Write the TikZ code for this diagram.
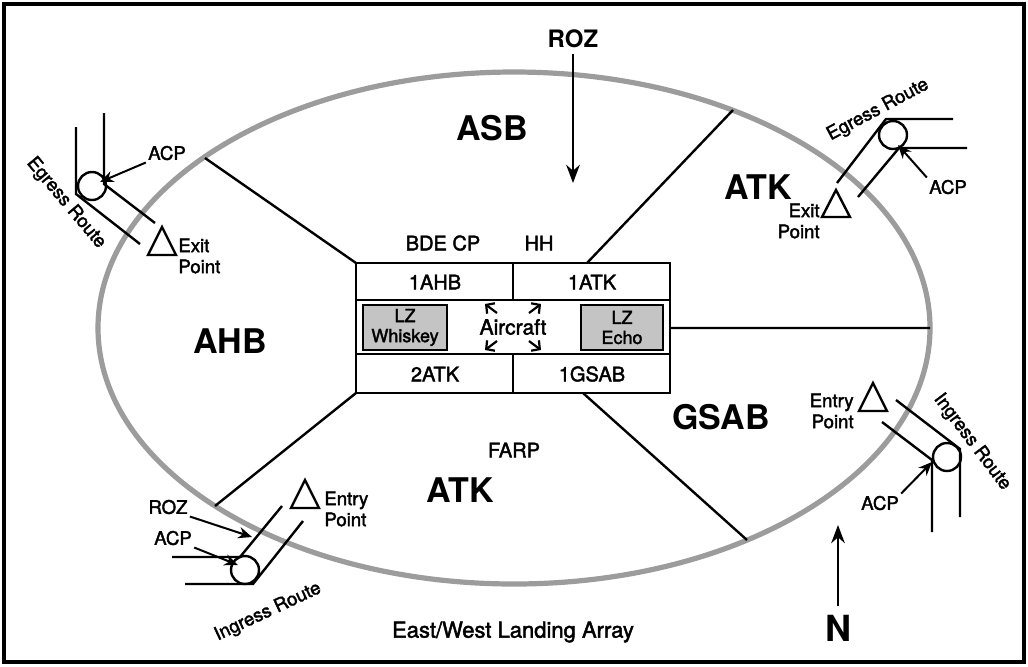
\documentclass[tikz,border=0pt]{standalone}
\usepackage{fontspec}
\setmainfont{TeX Gyre Heros}
\newfontfamily\medfont{TeX Gyre Heros}[FakeBold=2]
\usepackage{tikz}
\usetikzlibrary{calc,arrows.meta,positioning}
\definecolor{ringgray}{HTML}{9C9C9C}
\definecolor{lzgray}{HTML}{C4C4C4}
\tikzset{
  ln/.style={line width=1.2pt},
  ar/.style={-{Stealth[length=3.2mm,width=2.4mm]},line width=1pt},
  sar/.style={-{Stealth[length=2.4mm,width=2mm]},line width=1pt},
  tiny/.style={-{Straight Barb[length=3pt,width=6.5pt]},line width=1.1pt},
  ring/.style={draw=ringgray,line width=2.6pt},
  zone/.style={font=\fontsize{17}{17}\selectfont\bfseries},
  lbl/.style={font=\medfont\fontsize{9.3}{10.5}\selectfont,inner sep=1pt},
  cell/.style={font=\medfont\fontsize{10}{11}\selectfont},
  lz/.style={draw,line width=1.4pt,fill=lzgray,align=center,inner sep=0pt,font=\medfont\fontsize{9}{10}\selectfont}
}
\begin{document}
\begin{tikzpicture}[x=0.5pt,y=-0.5pt]
\useasboundingbox (0,0) rectangle (1028,666);
\draw[line width=1.6pt] (4,4) rectangle (1024,662);
\coordinate (ctr) at (514,328);
\draw[ring] (ctr) ellipse [x radius=416,y radius=256];
\coordinate (bNW) at (356,263); \coordinate (bNE) at (587,263); \coordinate (bE) at (670,328);
\coordinate (bSW) at (356,393); \coordinate (bSE) at (583,393);
\coordinate (eNW) at (205,158); \coordinate (eNE) at (733,110); \coordinate (eE) at (930,328);
\coordinate (eSW) at (215,506); \coordinate (eSE) at (747,540);
\draw[ln] (bNW)--(eNW) (bNE)--(eNE) (bE)--(eE) (bSW)--(eSW) (bSE)--(eSE);
\draw[ln] (356,263) rectangle (670,393);
\draw[ln] (356,300)--(670,300) (356,354)--(670,354) (513,263)--(513,300) (513,354)--(513,393);
\node[cell] (bde) at (443,243) {BDE CP};
\node[cell] (hh) at (539,243) {HH};
\node[cell] (ahb1) at (435,282) {1AHB};
\node[cell] (atk1) at (592,282) {1ATK};
\node[cell] (atk2) at (435,374) {2ATK};
\node[cell] (gsab1) at (592,374) {1GSAB};
\node[cell] (farp) at (514,450) {FARP};
\node[lz,minimum width=42pt,minimum height=22.5pt] (lzW) at (405,327.5) {LZ\\Whiskey};
\node[lz,minimum width=41pt,minimum height=22.5pt] (lzE) at (622,327.5) {LZ\\Echo};
\node[font=\medfont\fontsize{10.5}{11}\selectfont] (air) at (513,327) {Aircraft};
\draw[tiny] (497,313)--(485,304); \draw[tiny] (529,313)--(541,304);
\draw[tiny] (497,341)--(485,350); \draw[tiny] (529,341)--(541,350);
\node[zone] (asb) at (492,128) {ASB};
\node[zone] (atkNE) at (758,187) {ATK};
\node[zone] (ahb) at (230,341) {AHB};
\node[zone] (gsab) at (721,417) {GSAB};
\node[zone] (atkS) at (460,490) {ATK};
\node[font=\fontsize{12}{12}\selectfont\bfseries,inner sep=3pt] (roz) at (573,39) {ROZ};
\coordinate (rozTip) at (573,183);
\draw[ar] (roz.south)--(rozTip);
\node[font=\fontsize{18}{18}\selectfont\bfseries,inner sep=4pt] (north) at (838,628) {N};
\coordinate (nTip) at (838,525);
\draw[ar] (north.north)--(nTip);
\node[font=\medfont\fontsize{11}{11}\selectfont] (title) at (513,632) {East/West Landing Array};
% egress north-west
\draw[ln] (76,127)--(76,194)--(140,244);
\draw[ln] (104,113)--(104,184)--(155,223);
\draw[ln] (92,186) circle [radius=14];
\node[lbl] (acpNW) at (167,153) {ACP};
\coordinate (cNW) at (100,182);
\draw[sar] (acpNW.south west)--(cNW);
\node[lbl,rotate=-50] (egNW) at (66,203) {Egress Route};
\draw[ln] (162,227)--(176,255)--(148,255)--cycle;
\node[lbl,align=left,anchor=west] (exNW) at (176,256) {Exit\\Point};
% egress north-east
\draw[ln] (953,119)--(886,119)--(837,183);
\draw[ln] (967,148)--(899,148)--(858,197);
\draw[ln] (893,135) circle [radius=14];
\node[lbl] (acpNE) at (948,187) {ACP};
\coordinate (cNE) at (898,145);
\draw[sar] (acpNE.north west)--(cNE);
\node[lbl,rotate=28] (egNE) at (878,110) {Egress Route};
\draw[ln] (836,190)--(850,217)--(822,217)--cycle;
\node[lbl,align=right,anchor=east] (exNE) at (822,221) {Exit\\Point};
% ingress south-west
\draw[ln] (172,557)--(240,557)--(282,506);
\draw[ln] (185,584)--(253,584)--(303,521);
\draw[ln] (245,570) circle [radius=14];
\node[lbl] (rozSW) at (168,507) {ROZ};
\coordinate (rSW) at (252,537);
\draw[sar] (rozSW.south east)--(rSW);
\node[lbl] (acpSW) at (173,538) {ACP};
\coordinate (cSW) at (238,565);
\draw[sar] (acpSW.south east)--(cSW);
\node[lbl,rotate=25] (inSW) at (268,612) {Ingress Route};
\draw[ln] (305,480)--(319,508)--(291,508)--cycle;
\node[lbl,align=left,anchor=west] (enSW) at (322,509) {Entry\\Point};
% ingress south-east
\draw[ln] (960,517)--(960,449)--(896,400);
\draw[ln] (932,532)--(932,460)--(882,422);
\draw[ln] (947,457) circle [radius=14];
\node[lbl] (acpSE) at (880,503) {ACP};
\coordinate (cSE) at (932,462);
\draw[sar] (acpSE.north east)--(cSE);
\node[lbl,rotate=-53] (inSE) at (972,442) {Ingress Route};
\draw[ln] (873,383)--(887,411)--(859,411)--cycle;
\node[lbl,align=right,anchor=east] (enSE) at (856,411) {Entry\\Point};
\end{tikzpicture}
\end{document}
